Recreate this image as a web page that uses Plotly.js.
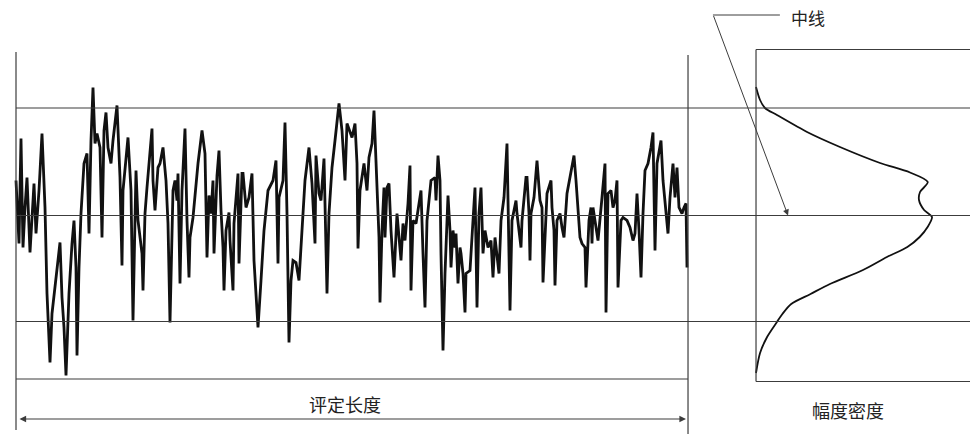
<!DOCTYPE html>
<html><head><meta charset="utf-8">
<script src="https://cdn.plot.ly/plotly-3.0.1.min.js"></script>
<style>html,body{margin:0;padding:0;background:#fff}</style>
</head><body><div id="chart" style="width:970px;height:434px"></div>
<script>
// Surface profile: position along the evaluation length and height (relative to the mean line)
const profilePos = [
0,1,3,5,7,9,11,14,16,18,20,23,26,29,31,34,36,40,44,46,48,50,53,56,58,60,61,63,65,
68,71,73,75,77,79,81,84,86,88,90,92,95,
97,101,104,106,107,112,115,117,120,122,126,127,129,131,136,137,139,142,144,147,150,152,154,157,159,161,162,164,166,169,171,173,174,177,182,186,189,191,
193,195,197,198,201,203,205,207,208,210,213,214,217,218,222,223,226,227,230,233,236,238,242,245,248,252,257,260,262,263,267,269,271,273,275,277,280,283,287,
289,293,296,299,300,303,305,308,309,311,313,316,319,323,326,328,329,331,336,339,341,342,344,348,351,353,356,358,360,363,364,366,368,369,371,373,375,378,381,
385,387,389,392,394,395,397,400,405,407,409,411,414,415,419,420,422,424,425,427,429,432,434,435,437,439,440,442,444,445,447,449,450,454,457,459,461,463,465,467,469,472,475,477,479,
481,483,485,488,491,493,494,496,500,501,505,506,510,511,513,514,515,518,521,524,526,527,530,531,535,536,538,539,541,544,546,548,551,555,558,560,561,564,566,569,570,573,575,
576,577,581,582,586,589,590,592,595,597,599,601,602,605,607,611,614,617,619,621,623,625,627,629,632,635,637,638,639,641,645,647,651,652,654,657,659,661,663,666,668,670,671
];
const profileHeight = [
35,15,-28,77,-32,8,38,-37,2,32,-18,25,82,8,-78,-147,-98,-62,-27,-82,-112,-160,-78,-28,-5,-52,-140,-52,2,
52,62,-18,75,128,72,82,68,-22,85,103,68,52,
75,110,38,-50,25,78,25,-105,45,-5,-38,-75,2,28,87,35,5,48,52,68,35,-8,-107,25,35,15,42,-68,25,87,-5,-62,-22,-2,52,85,62,-42,
20,2,35,-38,40,65,5,-32,-75,-15,3,-25,-75,-8,42,-48,42,42,8,18,42,-45,-112,-65,-15,25,35,55,-48,18,35,93,2,-127,-65,-45,-47,-65,5,
35,68,32,-28,60,22,15,57,2,-78,2,48,75,112,85,48,35,92,78,92,52,-33,25,52,25,58,72,105,52,-22,-87,-15,28,-22,28,32,-15,-62,2,
-45,-8,-25,12,50,-75,-5,-8,25,-38,-92,-5,25,35,38,15,60,35,-38,-135,-58,20,-15,-52,-15,-32,-18,-68,-32,-38,-58,-97,-58,-55,-5,28,-92,2,28,-38,-15,-32,-25,-62,-22,
-42,-58,-5,18,72,-48,-95,-5,15,2,-32,-5,38,38,2,-45,2,18,55,15,8,-67,8,22,35,8,-15,-70,-5,2,-12,-22,22,45,60,35,18,-22,-28,-32,-72,-5,8,
-28,8,-18,-25,18,52,-97,22,25,8,15,35,-72,-5,-2,-5,-12,-25,-18,22,-15,-62,2,45,52,68,83,35,-35,52,75,35,-5,-18,18,52,18,48,8,2,8,12,-52
];
// Amplitude density curve (normalised, peak = 1) against height
const densityHeight = [128.5,115.5,107.5,100.5,83.5,68.5,52.5,43,33.5,23.5,15.5,5.5,-1.5,-11.5,-21.5,-31.5,-41.5,-54.5,-68.5,-78.5,-88.5,-98.5,-106.5,-121.5,-137.5,-157.5];
const densityValue  = [0,0.023,0.051,0.119,0.29,0.477,0.705,0.875,0.976,0.932,0.926,0.955,1.0,0.975,0.93,0.86,0.744,0.608,0.42,0.31,0.2,0.15,0.119,0.063,0.023,0];

const upperLevel = 107.5, meanLevel = 0, lowerLevel = -106;
const labelLength = '评定长度', labelDensity = '幅度密度', labelMean = '中线';

const frame = '#3c3c3c';
const cjk = '"Noto Sans CJK SC", "Noto Sans", sans-serif';
function hline(x0, x1, y, w) { return {type:'line', xref:'paper', yref:'y', x0:x0, x1:x1, y0:y, y1:y, line:{color:frame, width:w||1.2}}; }
function vline(x, y0, y1) { return {type:'line', xref:'paper', yref:'y', x0:x, x1:x, y0:y0, y1:y1, line:{color:frame, width:1.2}}; }

const traces = [
  {x: profilePos, y: profileHeight, xaxis:'x', yaxis:'y', type:'scatter', mode:'lines',
   line:{color:'#111', width:2.8}, hoverinfo:'skip'},
  {x: densityValue, y: densityHeight, xaxis:'x2', yaxis:'y', type:'scatter', mode:'lines',
   line:{color:'#111', width:1.8, shape:'spline', smoothing:0.8}, hoverinfo:'skip'}
];

const layout = {
  width:970, height:434, margin:{l:0,r:0,t:0,b:0},
  paper_bgcolor:'#fff', plot_bgcolor:'rgba(0,0,0,0)', showlegend:false,
  xaxis:{domain:[0,1], range:[-16,954], visible:false, fixedrange:true},
  xaxis2:{domain:[0.77,1], range:[-0.0517,1.2159], anchor:'y', visible:false, fixedrange:true},
  yaxis:{domain:[0,1], range:[-218.5,215.5], visible:false, fixedrange:true},
  shapes:[
    hline(0.0165, 1, upperLevel),
    hline(0.0165, 1, meanLevel),
    hline(0.0165, 1, lowerLevel),
    hline(0.0165, 0.7093, -163.5),
    vline(0.0165, 163.5, -214.5),
    vline(0.7093, 160.5, -218.5),
    vline(0.7794, 166, -166),
    hline(0.7794, 1, 166),
    hline(0.7794, 1, -166),
    hline(0.735, 0.804, 200.5, 1)
  ],
  annotations:[
    {xref:'x', yref:'y', x:670, y:-203.5, axref:'x', ayref:'y', ax:2, ay:-203.5, text:'',
     showarrow:true, arrowside:'end+start', arrowhead:2, arrowsize:1.2, arrowwidth:1.1, arrowcolor:frame},
    {xref:'x2', yref:'y', x:0.182, y:0, ax:-75, ay:-201, text:'',
     showarrow:true, arrowhead:2, arrowsize:1.2, arrowwidth:1, arrowcolor:frame},
    {xref:'x', yref:'y', x:329, y:-188.5, xanchor:'center', yanchor:'middle', text:labelLength, showarrow:false,
     font:{family:cjk, size:18, color:'#222'}},
    {xref:'paper', yref:'y', x:0.874, y:-194.5, xanchor:'center', yanchor:'middle', text:labelDensity, showarrow:false,
     font:{family:cjk, size:18, color:'#222'}},
    {xref:'paper', yref:'y', x:0.833, y:198.5, xanchor:'center', yanchor:'middle', text:labelMean, showarrow:false,
     font:{family:cjk, size:17, color:'#222'}}
  ]
};
Plotly.newPlot('chart', traces, layout, {staticPlot:true, displayModeBar:false});
</script></body></html>
